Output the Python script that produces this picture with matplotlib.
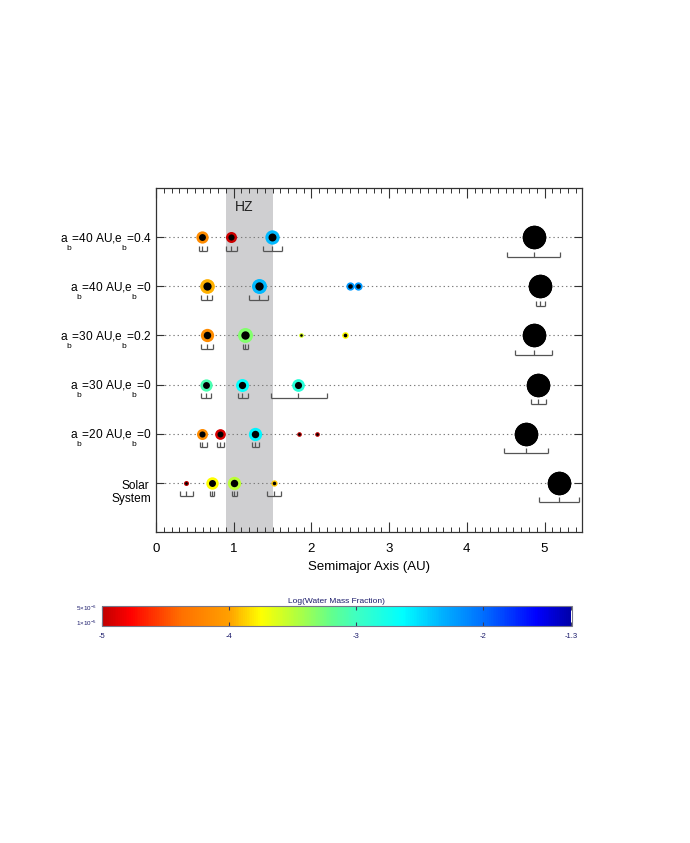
import numpy as np
import matplotlib
matplotlib.use('Agg')
import matplotlib.pyplot as plt
from matplotlib.colors import LinearSegmentedColormap, Normalize
from matplotlib.cm import ScalarMappable
import matplotlib.transforms as mtransforms
from matplotlib.ticker import MultipleLocator

plt.rcParams['font.family'] = ['Liberation Sans', 'DejaVu Sans']
plt.rcParams['mathtext.fontset'] = 'custom'
plt.rcParams['mathtext.rm'] = 'Liberation Sans'
plt.rcParams['mathtext.it'] = 'Liberation Sans:italic'
plt.rcParams['mathtext.bf'] = 'Liberation Sans:bold'
try:
    import matplotlib._mathtext as _mt
    _mt.FontConstantsBase.sub1 = 1.25
except Exception:
    pass

# ---------------- data ----------------
row_labels = [r'a$_{\rm b}$=40 AU,e$_{\rm b}$=0.4',
              r'a$_{\rm b}$=40 AU,e$_{\rm b}$=0',
              r'a$_{\rm b}$=30 AU,e$_{\rm b}$=0.2',
              r'a$_{\rm b}$=30 AU,e$_{\rm b}$=0',
              r'a$_{\rm b}$=20 AU,e$_{\rm b}$=0',
              'Solar System']
row_y = [6, 5, 4, 3, 2, 1]

# planet table (row index, semimajor axis, min/max a, mass [Earth], log water fraction)
planet_row = [6, 6, 6, 6,
              5, 5, 5, 5, 5,
              4, 4, 4, 4, 4,
              3, 3, 3, 3,
              2, 2, 2, 2, 2, 2,
              1, 1, 1, 1, 1]
planet_a = [0.595, 0.965, 1.49, 4.87,
            0.655, 1.32, 2.50, 2.60, 4.94,
            0.655, 1.15, 1.87, 2.43, 4.87,
            0.64, 1.11, 1.83, 4.92,
            0.595, 0.83, 1.28, 1.84, 2.07, 4.76,
            0.39, 0.72, 1.00, 1.52, 5.19]
planet_amin = [0.553, 0.90, 1.373, 4.52,
               0.58, 1.20, np.nan, np.nan, 4.89,
               0.58, 1.115, np.nan, np.nan, 4.62,
               0.58, 1.05, 1.48, 4.82,
               0.57, 0.785, 1.235, np.nan, np.nan, 4.48,
               0.31, 0.69, 0.98, 1.43, 4.93]
planet_amax = [0.652, 1.04, 1.617, 5.20,
               0.725, 1.445, np.nan, np.nan, 5.00,
               0.73, 1.18, np.nan, np.nan, 5.10,
               0.71, 1.18, 2.20, 5.02,
               0.66, 0.87, 1.325, np.nan, np.nan, 5.05,
               0.47, 0.75, 1.04, 1.61, 5.44]
planet_mass = [0.79, 0.57, 1.24, 318,
               1.35, 1.43, 0.24, 0.24, 318,
               1.0, 1.43, 0.044, 0.128, 318,
               0.79, 0.93, 0.87, 318,
               0.57, 0.52, 1.0, 0.044, 0.044, 318,
               0.055, 0.815, 1.0, 0.107, 318]
planet_logw = [-4.15, -4.95, -2.35, np.nan,
               -3.95, -2.35, -2.2, -2.2, np.nan,
               -4.15, -3.3, -3.6, -3.75, np.nan,
               -3.05, -2.65, -2.85, np.nan,
               -4.15, -4.9, -2.6, -5.0, -5.0, np.nan,
               -5.0, -3.75, -3.5, -3.9, np.nan]

hz_inner, hz_outer = 0.9, 1.5

cbar_stops = [-5.0, -4.78, -4.38, -4.0, -3.75, -3.46, -3.18, -3.0,
              -2.63, -2.31, -2.0, -1.57, -1.3]
cbar_colors = ['#c00000', '#ff0000', '#ff7000', '#ffa000', '#ffff00',
               '#b0ff40', '#60ff90', '#40ffc0', '#00ffff', '#00b0ff',
               '#0070ff', '#0000ff', '#0000a8']
cbar_ticks = [-5, -4, -3, -2, -1.3]
cbar_ticklabels = ['-5', '-4', '-3', '-2', '-1.3']

# ---------------- figure ----------------
W, H = 690, 843
fig = plt.figure(figsize=(W / 100, H / 100), dpi=100)
ax = fig.add_axes([156 / W, 1 - 532 / H, 426 / W, 344 / H])

vmin, vmax = cbar_stops[0], cbar_stops[-1]
cmap = LinearSegmentedColormap.from_list(
    'water', [((s - vmin) / (vmax - vmin), c) for s, c in zip(cbar_stops, cbar_colors)])
norm = Normalize(vmin=vmin, vmax=vmax)

ax.set_xlim(0, 426 / 77.7)
ax.set_ylim(0, 7)

# habitable zone
ax.axvspan(hz_inner, hz_outer, color='#cfcfd1', lw=0, zorder=0)
ax.text((hz_inner + hz_outer) / 2 - 0.07, 6.62, 'HZ', ha='center', va='center',
        fontsize=10, color='#222222')

# dotted row lines
for y in row_y:
    ax.axhline(y, color='#7a7a7a', lw=0.8, linestyle=(0, (1.2, 2.6)), zorder=1)

px_per_row = 344 / 7.0


def diam_px(m):
    if m > 50:
        return 23.5 * (m / 318.0) ** (1 / 3)
    return 13.3 * m ** (1 / 3)


for r, a, lo, hi, m, w in zip(planet_row, planet_a, planet_amin, planet_amax,
                              planet_mass, planet_logw):
    D = diam_px(m)
    giant = m > 50
    ring = 'black' if np.isnan(w) else cmap(norm(w))
    ax.scatter([a], [r], s=(0.72 * D) ** 2, color=ring, lw=0, zorder=4)
    core = max(0.56 * D, 2.6) if not giant else D
    ax.scatter([a], [r], s=(0.72 * core) ** 2, color='black', lw=0, zorder=5)
    if not np.isnan(lo):
        off = (19.5 if giant else 13.5) / px_per_row
        th = 5.0 / px_per_row
        yb = r - off
        ax.plot([lo, hi], [yb, yb], color='#555555', lw=0.9, zorder=3,
                solid_capstyle='butt')
        ax.vlines([lo, a, hi], yb, yb + th, color='#555555', lw=0.9, zorder=3)

# axes styling
for sp in ax.spines.values():
    sp.set_color('#333333')
    sp.set_linewidth(0.9)
ax.xaxis.set_major_locator(MultipleLocator(1))
ax.xaxis.set_minor_locator(MultipleLocator(0.1))
ax.tick_params(axis='x', which='major', direction='in', top=True, bottom=True,
               length=7.2, width=0.8, color='#333333', labelsize=9.5, pad=8)
ax.tick_params(axis='x', which='minor', direction='in', top=True, bottom=True,
               length=3.6, width=0.7, color='#333333')
ax.set_yticks(row_y)
ax.set_yticklabels([])
ax.tick_params(axis='y', which='both', direction='in', left=True, right=True,
               length=5.8, width=0.8, color='#333333')
ax.yaxis.set_minor_locator(plt.NullLocator())
ax.set_xlabel('Semimajor Axis (AU)', fontsize=9.5, labelpad=4)

trans = mtransforms.blended_transform_factory(ax.transAxes, ax.transData)
xr = -4.5 / 426
for lab, y in zip(row_labels, row_y):
    if lab == 'Solar System':
        ax.text(-7 / 426, y - 5.7 / px_per_row, 'Solar', transform=trans,
                ha='right', va='baseline', fontsize=8.6)
        ax.text(xr, y - 19.0 / px_per_row, 'System', transform=trans,
                ha='right', va='baseline', fontsize=8.6)
    else:
        ax.text(xr, y - 5 / px_per_row, lab, transform=trans, ha='right',
                va='baseline', fontsize=8.6)

# ---------------- colorbar ----------------
navy = '#1b1b6b'
cax = fig.add_axes([101.7 / W, 1 - 626 / H, (571.5 - 101.7) / W, 20 / H])
sm = ScalarMappable(norm=norm, cmap=cmap)
cb = fig.colorbar(sm, cax=cax, orientation='horizontal')
cb.set_ticks(cbar_ticks)
cb.set_ticklabels(cbar_ticklabels)
cb.outline.set_edgecolor('#77778a')
cb.outline.set_linewidth(0.8)
cax.tick_params(axis='x', direction='in', top=True, bottom=True, length=3,
                width=0.8, color='#3a3a5a', labelsize=5.5, labelcolor=navy, pad=5)
cax.set_title('Log(Water Mass Fraction)', fontsize=6, color=navy, pad=2.5)
fig.text(97 / W, 1 - 608 / H, r'5$\times$10$^{-6}$', ha='right', va='center',
         fontsize=4.5, color=navy)
fig.text(97 / W, 1 - 623 / H, r'1$\times$10$^{-5}$', ha='right', va='center',
         fontsize=4.5, color=navy)

fig.savefig('out.png', dpi=100)
